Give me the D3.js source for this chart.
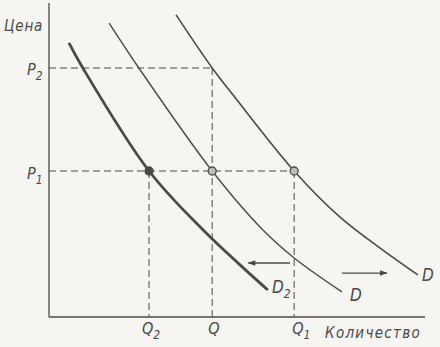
<!DOCTYPE html>
<html>
<head>
<meta charset="utf-8">
<script src="https://cdn.jsdelivr.net/npm/d3@7"></script>
<style>
  body { margin: 0; background: #f6f5f1; }
  text { font-family: "Liberation Sans Narrow", "DejaVu Sans Condensed", "Liberation Sans", sans-serif; font-style: italic; fill: #4a4a4a; }
</style>
</head>
<body>
<div id="chart"></div>
<script>
// demand curves, [quantity, price]
const curveD2 = [[5.3, 87.3], [9.0, 79.3], [26.6, 46.5], [41.0, 27.7], [50.8, 16.6], [58.2, 8.6]];
const curveD = [[16.0, 93.6], [23.9, 79.3], [43.4, 46.5], [56.9, 27.7], [65.2, 18.8], [77.9, 8.0]];
const curveD1 = [[33.8, 96.2], [43.4, 79.3], [50.0, 69.1], [65.2, 46.5], [77.4, 31.8], [88.8, 21.3], [98.1, 13.4]];

const prices = { P1: 46.5, P2: 79.3 };
const quantities = { Q2: 26.6, Q: 43.4, Q1: 65.2 };

// shift arrows: [from, to] at a price level
const arrowLeft = [[64.1, 17.2], [53.0, 17.2]];
const arrowRight = [[77.9, 14.0], [89.9, 14.0]];

const width = 440, height = 347;
const x = d3.scaleLinear().domain([0, 100]).range([49, 425]);
const y = d3.scaleLinear().domain([0, 100]).range([317, 3]);
const ink = "#4a4a4a";

const svg = d3.select("#chart").append("svg")
    .attr("width", width)
    .attr("height", height);

svg.append("defs").append("marker")
    .attr("id", "head")
    .attr("viewBox", "0 0 10 10")
    .attr("refX", 9).attr("refY", 5)
    .attr("markerWidth", 9).attr("markerHeight", 6)
    .attr("orient", "auto")
    .append("path")
    .attr("d", "M0,1.5 L10,5 L0,8.5 Z")
    .attr("fill", ink);

// axes (plain lines, no ticks)
svg.append("line")
    .attr("x1", x(0)).attr("y1", y(0)).attr("x2", x(0)).attr("y2", y(100))
    .attr("stroke", ink).attr("stroke-width", 1.3);
svg.append("line")
    .attr("x1", x(0)).attr("y1", y(0)).attr("x2", x(100)).attr("y2", y(0))
    .attr("stroke", ink).attr("stroke-width", 1.3);

// dashed guides
const guides = [
    [[0, prices.P2], [quantities.Q, prices.P2]],
    [[0, prices.P1], [quantities.Q1, prices.P1]],
    [[quantities.Q2, prices.P1], [quantities.Q2, 0]],
    [[quantities.Q, prices.P2], [quantities.Q, 0]],
    [[quantities.Q1, prices.P1], [quantities.Q1, 0]]
];
svg.selectAll(".guide")
    .data(guides)
    .enter()
    .append("line")
    .attr("class", "guide")
    .attr("x1", d => x(d[0][0])).attr("y1", d => y(d[0][1]))
    .attr("x2", d => x(d[1][0])).attr("y2", d => y(d[1][1]))
    .attr("stroke", ink)
    .attr("stroke-width", 1)
    .attr("stroke-dasharray", "7,4");

// curves
const line = d3.line()
    .x(d => x(d[0]))
    .y(d => y(d[1]))
    .curve(d3.curveCatmullRom.alpha(0.5));

svg.append("path").datum(curveD2)
    .attr("d", line).attr("fill", "none")
    .attr("stroke", ink).attr("stroke-width", 2.8);
svg.append("path").datum(curveD)
    .attr("d", line).attr("fill", "none")
    .attr("stroke", ink).attr("stroke-width", 1.4);
svg.append("path").datum(curveD1)
    .attr("d", line).attr("fill", "none")
    .attr("stroke", ink).attr("stroke-width", 1.6);

// equilibrium points
const points = [
    { q: quantities.Q2, p: prices.P1, fill: ink },
    { q: quantities.Q, p: prices.P1, fill: "#bdbcb8" },
    { q: quantities.Q1, p: prices.P1, fill: "#bdbcb8" }
];
svg.selectAll(".pt")
    .data(points)
    .enter()
    .append("circle")
    .attr("class", "pt")
    .attr("cx", d => x(d.q))
    .attr("cy", d => y(d.p))
    .attr("r", 4)
    .attr("fill", d => d.fill)
    .attr("stroke", ink)
    .attr("stroke-width", 1.3);

// shift arrows
[arrowLeft, arrowRight].forEach(a => {
    svg.append("line")
        .attr("x1", x(a[0][0])).attr("y1", y(a[0][1]))
        .attr("x2", x(a[1][0])).attr("y2", y(a[1][1]))
        .attr("stroke", ink).attr("stroke-width", 1.3)
        .attr("marker-end", "url(#head)");
});

// labels
const sub = (el, main, s) => {
    el.append("tspan").text(main);
    el.append("tspan").attr("dy", 5).attr("font-size", 12).text(s);
};

svg.append("text").attr("x", 4).attr("y", 31).attr("font-size", 15)
    .attr("letter-spacing", 0.8).text("Цена");
svg.append("text").attr("x", 325).attr("y", 338).attr("font-size", 15)
    .attr("letter-spacing", 1.3).text("Количество");

sub(svg.append("text").attr("x", 27).attr("y", y(prices.P2) + 7).attr("font-size", 16), "P", "2");
sub(svg.append("text").attr("x", 27).attr("y", y(prices.P1) + 8).attr("font-size", 16), "P", "1");

sub(svg.append("text").attr("x", x(quantities.Q2) - 7).attr("y", 334).attr("font-size", 16), "Q", "2");
svg.append("text").attr("x", x(quantities.Q) - 4).attr("y", 334).attr("font-size", 16).text("Q");
sub(svg.append("text").attr("x", x(quantities.Q1) - 2).attr("y", 334).attr("font-size", 16), "Q", "1");

sub(svg.append("text").attr("x", 272).attr("y", 293).attr("font-size", 17), "D", "2");
svg.append("text").attr("x", 350).attr("y", 301).attr("font-size", 17).text("D");
svg.append("text").attr("x", 422).attr("y", 281).attr("font-size", 17).text("D");
</script>
</body>
</html>
